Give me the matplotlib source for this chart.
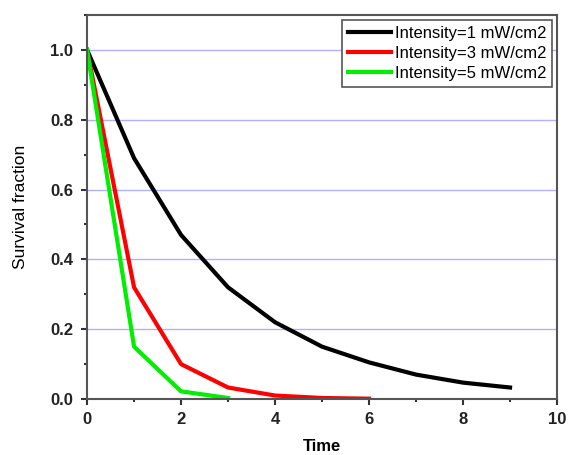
import matplotlib
matplotlib.use("Agg")
import matplotlib.pyplot as plt
from matplotlib.ticker import MultipleLocator

plt.rcParams['font.family'] = ['Liberation Sans', 'DejaVu Sans']

t1 = [0, 1, 2, 3, 4, 5, 6, 7, 8, 9]
s1 = [1.0, 0.69, 0.47, 0.32, 0.22, 0.15, 0.105, 0.07, 0.047, 0.033]
t3 = [0, 1, 2, 3, 4, 5, 6]
s3 = [1.0, 0.32, 0.10, 0.033, 0.01, 0.003, 0.001]
t5 = [0, 1, 2, 3]
s5 = [1.0, 0.15, 0.022, 0.003]
labels = ["Intensity=1 mW/cm2", "Intensity=3 mW/cm2", "Intensity=5 mW/cm2"]
colors = ["#000000", "#ff0000", "#00ee00"]

fig = plt.figure(figsize=(5.69, 4.55), dpi=100)
ax = fig.add_axes([0.153, 0.123, 0.826, 0.844])

for t, s, lab, c in zip([t1, t3, t5], [s1, s3, s5], labels, colors):
    ax.plot(t, s, color=c, lw=3, label=lab, solid_joinstyle='round')

ax.set_xlim(0, 10)
ax.set_ylim(0, 1.1)
ax.xaxis.set_major_locator(MultipleLocator(2))
ax.xaxis.set_minor_locator(MultipleLocator(1))
ax.yaxis.set_major_locator(MultipleLocator(0.2))
ax.yaxis.set_minor_locator(MultipleLocator(0.1))
ax.set_yticks([0, 0.2, 0.4, 0.6, 0.8, 1.0])
ax.set_yticklabels(["0.0", "0.2", "0.4", "0.6", "0.8", "1.0"])
ax.grid(axis='y', which='major', color='#b0b0ff', lw=1)
ax.set_axisbelow(True)
ax.tick_params(axis='both', which='major', direction='out', length=4, width=1.5,
               labelsize=12, colors='#333333', labelcolor='#222222')
ax.tick_params(axis='y', which='major', pad=6)
ax.tick_params(axis='x', which='major', pad=5)
ax.tick_params(axis='both', which='minor', direction='out', length=2.5, width=1.5,
               colors='#333333')
for lbl in ax.get_xticklabels() + ax.get_yticklabels():
    lbl.set_fontweight('bold')
for sp in ax.spines.values():
    sp.set_linewidth(1.5)
    sp.set_color('#555555')

ax.set_ylabel("Survival fraction", fontsize=12.5, labelpad=16)
ax.set_xlabel("Time", fontsize=12, fontweight='bold', labelpad=9)

leg = ax.legend(loc='upper right', fontsize=12, handlelength=2.6, handletextpad=0.2,
                borderpad=0.35, labelspacing=0.3, fancybox=False, framealpha=1,
                edgecolor='#555555', borderaxespad=0.3)
leg.get_frame().set_linewidth(1.2)

fig.savefig("out.png", dpi=100)
